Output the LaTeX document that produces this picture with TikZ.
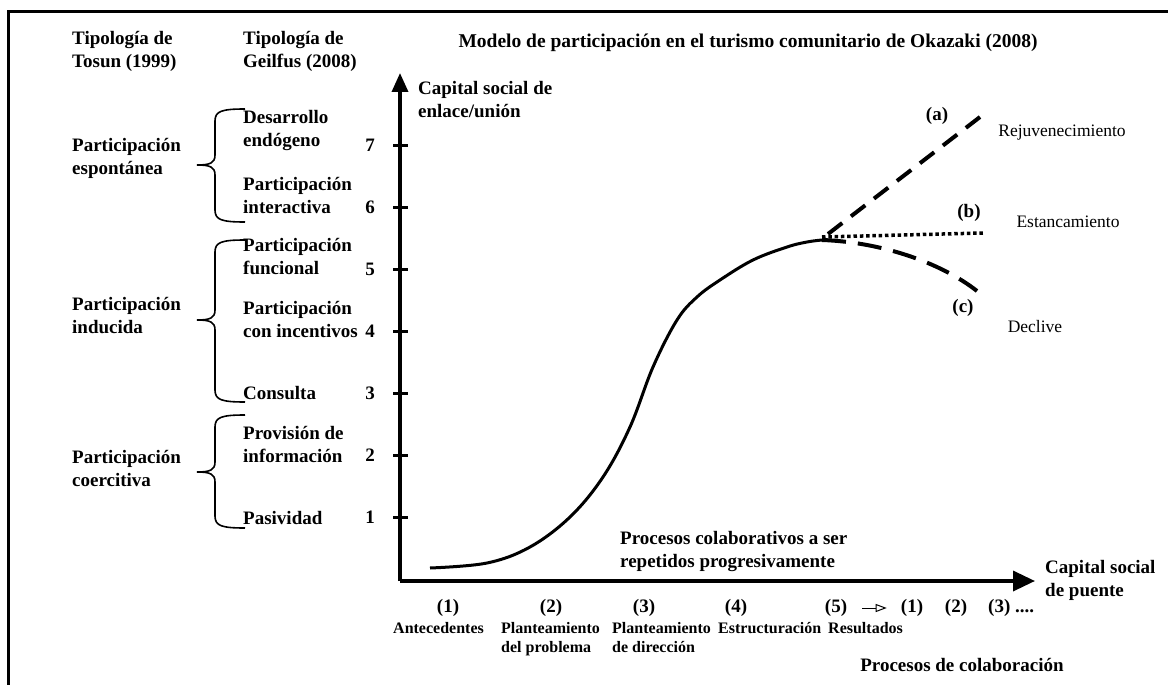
\documentclass[tikz,border=0pt]{standalone}
\usepackage{fontspec}
\setmainfont{Liberation Serif}
\usetikzlibrary{arrows.meta}

\tikzset{
  txt/.style={font=\fontsize{19}{23}\selectfont\bfseries, align=left, inner sep=0pt},
  etapa/.style={font=\fontsize{16}{19}\selectfont\bfseries, align=left, inner sep=0pt, anchor=north west},
  salida/.style={font=\fontsize{17.5}{21}\selectfont, inner sep=0pt},
  eje/.style={line width=3.5pt},
}

% llave abierta a la izquierda: arriba, punta, abajo
\newcommand{\gbrace}[3]{%
  \draw[line width=1.6pt] (245,#1) .. controls (222,#1) and (215,#1+2) .. (215,#1+12)
    -- (215,#2-10) .. controls (215,#2-2) and (210,#2) .. (197,#2)
    .. controls (210,#2) and (215,#2+2) .. (215,#2+10)
    -- (215,#3-12) .. controls (215,#3-2) and (222,#3) .. (245,#3);}

\begin{document}
\begin{tikzpicture}[x=1pt, y=-1pt]
    \useasboundingbox (0,0) rectangle (1168,685);
    % Marco
    \draw[line width=3pt] (8,685) -- (8,12) -- (1168,12);
    % Encabezados
    \node[txt, anchor=west] (tosun) at (72,51) {Tipología de\\Tosun (1999)};
    \node[txt, anchor=west] (geilfus) at (243,51) {Tipología de\\Geilfus (2008)};
    \node[font=\fontsize{19.5}{23}\selectfont\bfseries, inner sep=0pt] (titulo) at (748,43)
        {Modelo de participación en el turismo comunitario de Okazaki (2008)};
    % Tosun
    \node[txt, anchor=west] (espont) at (72,158) {Participación\\espontánea};
    \node[txt, anchor=west] (induc) at (72,316) {Participación\\inducida};
    \node[txt, anchor=west] (coerc) at (72,468) {Participación\\coercitiva};
    \gbrace{109}{165}{222}
    \gbrace{240}{320}{402}
    \gbrace{415}{472}{528}
    % Geilfus
    \node[txt, anchor=west] (g7) at (243,131) {Desarrollo\\endógeno};
    \node[txt, anchor=west] (g6) at (243,195) {Participación\\interactiva};
    \node[txt, anchor=west] (g5) at (243,257) {Participación\\funcional};
    \node[txt, anchor=west] (g4) at (243,319) {Participación\\con incentivos};
    \node[txt, anchor=west] (g3) at (243,393) {Consulta};
    \node[txt, anchor=west] (g2) at (243,444) {Provisión de\\información};
    \node[txt, anchor=west] (g1) at (243,518) {Pasividad};
    % Ejes
    \coordinate (o) at (400,581);
    \coordinate (ytop) at (400,73);
    \coordinate (xend) at (1035,581);
    \draw[eje, -{Triangle[length=19pt,width=16pt]}] (o) -- (ytop);
    \draw[eje, -{Triangle[length=22pt,width=20pt]}] (o) -- (xend);
    \foreach \i in {1,...,7}{
        \draw[line width=3pt] (393,579-62*\i) -- (408,579-62*\i);
        \node[txt] (n\i) at (370,579-62*\i) {\i};
    }
    \node[txt, anchor=west] (ylab) at (418,100) {Capital social de\\enlace/unión};
    \node[txt, anchor=west] (xlab) at (1045,580) {Capital social\\de puente};
    % Curva
    \draw[line width=3pt] plot[smooth, tension=0.6] coordinates {(430,568) (487,563) (530,547)
        (570,517) (603,477) (630,427) (653,367) (677,320) (697,297) (720,280) (753,260)
        (787,247) (807,242) (822,240)};
    \coordinate (cruce) at (822,240);
    % Escenarios
    \draw[line width=4pt, dash pattern=on 18pt off 11pt] (cruce) ++(6,-6) -- (980,117);
    \draw[line width=3.5pt, dash pattern=on 3.5pt off 2.8pt] (cruce) ++(0,-3) -- (983,233);
    \draw[line width=4pt, dash pattern=on 24pt off 12pt] (cruce) .. controls (880,242) and (940,262) .. (977,291);
    \node[txt] (ea) at (937,116) {(a)};
    \node[txt] (eb) at (969,213) {(b)};
    \node[txt] (ec) at (963,308) {(c)};
    \node[salida] (rejuv) at (1062,133) {Rejuvenecimiento};
    \node[salida] (estanc) at (1068,222) {Estancamiento};
    \node[salida] (decl) at (1035,327) {Declive};
    \node[txt, anchor=west] (colab) at (620,552) {Procesos colaborativos a ser\\repetidos progresivamente};
    % Etapas
    \node[txt] (p1) at (448,608) {(1)};
    \node[txt] (p2) at (551,608) {(2)};
    \node[txt] (p3) at (644,608) {(3)};
    \node[txt] (p4) at (736,608) {(4)};
    \node[txt] (p5) at (836,608) {(5)};
    \node[txt] (q1) at (912,608) {(1)};
    \node[txt] (q2) at (956,608) {(2)};
    \node[txt, anchor=west] (q3) at (988,608) {(3) ....};
    \draw[line width=1pt, -{Triangle[open,length=11pt,width=8pt]}, shorten <=15pt, shorten >=14pt] (p5) -- (q1);
    \node[etapa] (e1) at (393,622) {Antecedentes};
    \node[etapa] (e2) at (501,622) {Planteamiento\\del problema};
    \node[etapa] (e3) at (612,622) {Planteamiento\\de dirección};
    \node[etapa] (e4) at (718,622) {Estructuración};
    \node[etapa] (e5) at (828,622) {Resultados};
    \node[txt] (proc) at (962,665) {Procesos de colaboración};
\end{tikzpicture}
\end{document}
